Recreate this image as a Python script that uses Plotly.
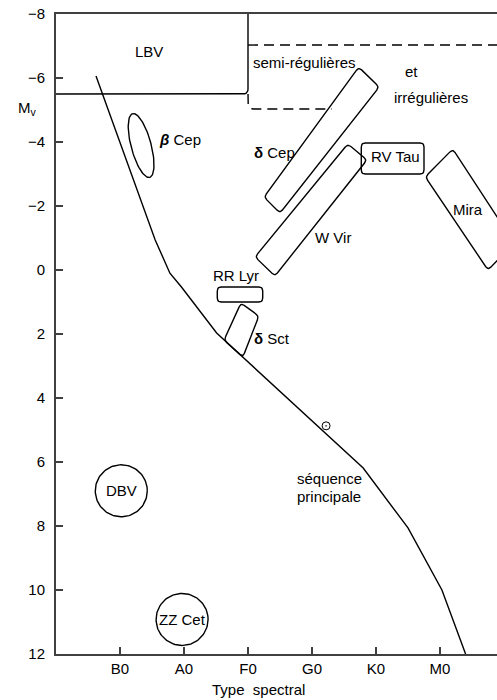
import numpy as np
import plotly.graph_objects as go

# ---- axes -------------------------------------------------------------
spectral_ticks = [1, 2, 3, 4, 5, 6]
spectral_labels = ["B0", "A0", "F0", "G0", "K0", "M0"]
mv_ticks = [-8, -6, -4, -2, 0, 2, 4, 6, 8, 10, 12]

# ---- main sequence ----------------------------------------------------
ms_type = [0.625, 1.55, 1.78, 1.96, 2.51, 4.80, 5.50, 6.03, 6.40]
ms_mv = [-6.06, -0.94, 0.10, 0.53, 1.97, 6.19, 8.06, 10.0, 12.0]

sun_type = [4.22]
sun_mv = [4.87]

# ---- pulsating-star regions (corner lists) -----------------------------
lbv_type = [0.0, 3.0, 3.0]
lbv_mv = [-5.5, -5.5, -8.0]

sr_low_type = [3.0, 3.0, 4.31]
sr_low_mv = [-5.5, -5.03, -5.03]
sr_top_type = [3.0, 7.0]
sr_top_mv = [-7.03, -7.03]

dcep_type = [4.73, 5.05, 3.50, 3.25]
dcep_mv = [-6.34, -5.72, -1.78, -2.28]

wvir_type = [4.56, 4.86, 3.42, 3.11]
wvir_mv = [-3.94, -3.44, 0.19, -0.41]

rvtau_type = [4.77, 5.75, 5.75, 4.77]
rvtau_mv = [-3.97, -3.97, -3.00, -3.00]

mira_type = [6.20, 7.16, 6.75, 5.77]
mira_mv = [-3.78, -0.84, 0.00, -2.91]

rrlyr_type = [2.52, 3.23, 3.23, 2.52]
rrlyr_mv = [0.53, 0.53, 1.00, 1.00]

dsct_type = [2.89, 3.17, 2.92, 2.625]
dsct_mv = [1.03, 1.44, 2.72, 2.19]

# beta Cep ellipse: centre, semi-axes (px), tilt (deg)
bcep_centre = (1.33, -3.89)
bcep_axes_px = (33.0, 10.0)
bcep_tilt = 15.0

# white-dwarf instability circles: centre type, centre Mv, radius (px)
wd_names = ["DBV", "ZZ Cet"]
wd_type = [1.02, 1.97]
wd_mv = [6.9, 10.92]
wd_radius_px = [26.0, 26.0]

# ---- labels -----------------------------------------------------------
label_text = ["LBV", "semi-régulières", "et", "irrégulières", "<b>δ</b> Cep",
              "RV Tau", "W Vir", "Mira", "RR Lyr", "<b>δ</b> Sct",
              "<i><b>β</b></i> Cep", "séquence", "principale"]
label_type = [1.45, 3.89, 5.56, 5.86, 3.41, 5.30, 4.33, 6.44, 2.81, 3.37,
              1.94, 4.27, 4.27]
label_mv = [-6.84, -6.50, -6.19, -5.38, -3.66, -3.56, -1.03, -1.88, 0.16,
            2.13, -4.09, 6.50, 7.09]

# axis titles: (spectral type, Mv) where each is centred
mv_title_pos = (-0.44, -5.06)
type_title_pos = (3.16, 13.12)

# ---- geometry ----------------------------------------------------------
W, H = 497, 700
ML, MR, MT, MB = 56, 0, 14, 46
PLOT_W = W - ML - MR
PLOT_H = H - MT - MB
X_RANGE = [0.0, PLOT_W / 64.0]
Y_RANGE = [12.0, -8.0]
SX = PLOT_W / (X_RANGE[1] - X_RANGE[0])       # px per spectral class
SY = PLOT_H / abs(Y_RANGE[0] - Y_RANGE[1])     # px per magnitude

FONT = "Liberation Sans, Arial, sans-serif"
FS = 15
LINE = dict(color="black", width=1.4)


def to_paper(x, y):
    px = (x - X_RANGE[0]) / (X_RANGE[1] - X_RANGE[0])
    py = (y - Y_RANGE[0]) / (Y_RANGE[1] - Y_RANGE[0])
    return px, py


def rounded(xs, ys, r_px=4.0, closed=True, n=6):
    """Polyline through the corners with each corner rounded off (in px)."""
    pts = np.column_stack([np.asarray(xs) * SX, np.asarray(ys) * SY])
    m = len(pts)
    out = []
    for i in range(m):
        c = pts[i]
        if not closed and (i == 0 or i == m - 1):
            out.append(c)
            continue
        p, q = pts[(i - 1) % m], pts[(i + 1) % m]
        u1 = (p - c) / np.linalg.norm(p - c)
        u2 = (q - c) / np.linalg.norm(q - c)
        a, b = c + u1 * r_px, c + u2 * r_px
        for t in np.linspace(0, 1, n):
            out.append((1 - t) ** 2 * a + 2 * (1 - t) * t * c + t ** 2 * b)
    if closed:
        out.append(out[0])
    out = np.array(out)
    return out[:, 0] / SX, out[:, 1] / SY


def ellipse(centre, axes_px, tilt_deg, n=90):
    t = np.linspace(0, 2 * np.pi, n)
    th = np.radians(tilt_deg)
    a, b = axes_px
    ex = b * np.cos(t)
    ey = a * np.sin(t)
    px = ex * np.cos(th) + ey * np.sin(th)
    py = -ex * np.sin(th) + ey * np.cos(th)
    return centre[0] + px / SX, centre[1] + py / SY


fig = go.Figure()


def add_path(x, y, dash=None):
    ln = dict(LINE)
    if dash:
        ln["dash"] = dash
    fig.add_trace(go.Scatter(x=x, y=y, mode="lines", line=ln,
                             hoverinfo="skip", showlegend=False))


# main sequence and the Sun
add_path(ms_type, ms_mv)
fig.add_trace(go.Scatter(x=sun_type, y=sun_mv, mode="markers",
                         marker=dict(symbol="circle-open-dot", size=8,
                                     color="black", line=dict(width=1)),
                         hoverinfo="skip", showlegend=False))

# LBV box and semi-regular / irregular zone
add_path(*rounded(lbv_type, lbv_mv, r_px=5, closed=False))
add_path(*rounded(sr_low_type, sr_low_mv, r_px=6, closed=False), dash="10px,6px")
add_path(sr_top_type, sr_top_mv, dash="10px,6px")

# instability regions
for xs, ys in [(dcep_type, dcep_mv), (wvir_type, wvir_mv),
               (rvtau_type, rvtau_mv), (mira_type, mira_mv),
               (rrlyr_type, rrlyr_mv), (dsct_type, dsct_mv)]:
    add_path(*rounded(xs, ys, r_px=4))

add_path(*ellipse(bcep_centre, bcep_axes_px, bcep_tilt))

for name, cx, cy, r in zip(wd_names, wd_type, wd_mv, wd_radius_px):
    t = np.linspace(0, 2 * np.pi, 120)
    add_path(cx + r * np.cos(t) / SX, cy + r * np.sin(t) / SY)
    fig.add_annotation(x=cx, y=cy, text=name, showarrow=False,
                       font=dict(family=FONT, size=FS, color="black"))

for txt, x, y in zip(label_text, label_type, label_mv):
    fig.add_annotation(x=x, y=y, text=txt, showarrow=False,
                       font=dict(family=FONT, size=FS, color="black"))

# axis titles (outside the plotting area, so placed in paper units)
for txt, pos in [("M<sub>v</sub>", mv_title_pos),
                 ("Type\u00a0 spectral", type_title_pos)]:
    px, py = to_paper(*pos)
    fig.add_annotation(x=px, y=py, xref="paper", yref="paper", text=txt,
                       xanchor="center", yanchor="middle", showarrow=False,
                       font=dict(family=FONT, size=FS, color="black"))

AX = dict(showline=True, linecolor="#404040", linewidth=2, ticks="inside",
          ticklen=7, tickwidth=1.5, tickcolor="#404040", showgrid=False,
          zeroline=False, tickfont=dict(family=FONT, size=FS, color="black"))

fig.update_xaxes(range=X_RANGE, tickvals=spectral_ticks, ticktext=spectral_labels,
                 mirror=True, **AX)
fig.update_yaxes(range=Y_RANGE, tickvals=mv_ticks, ticklabelstandoff=6, **AX)

fig.update_layout(width=W, height=H, margin=dict(l=ML, r=MR, t=MT, b=MB),
                  plot_bgcolor="white", paper_bgcolor="white",
                  font=dict(family=FONT, size=FS, color="black"))

fig.write_html("out.html")
